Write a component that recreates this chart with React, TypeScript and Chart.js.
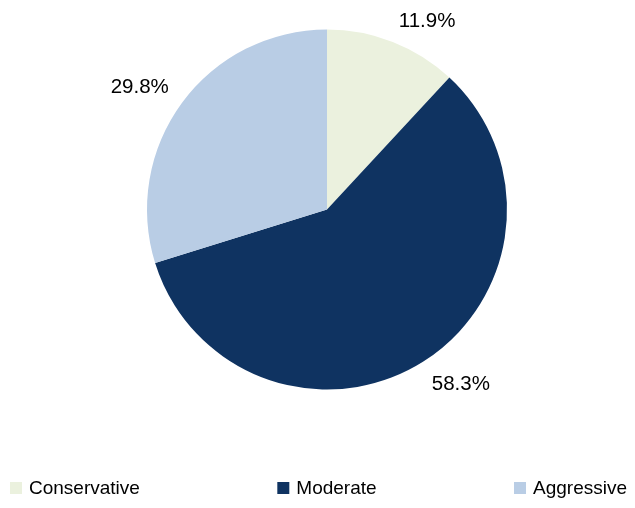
import React, { useEffect, useRef } from "react";
import { Chart, registerables } from "chart.js";

Chart.register(...registerables);

const categories = ["Conservative", "Moderate", "Aggressive"];
const values = [11.9, 58.3, 29.8];
const valueLabels = ["11.9%", "58.3%", "29.8%"];
const colors = ["#EBF1DE", "#0F3361", "#B9CDE5"];

const FONT = '"Liberation Sans", Arial, sans-serif';

const outsideLabels = {
  id: "outsideLabels",
  afterDatasetsDraw(chart: any) {
    const ctx = chart.ctx;
    const meta = chart.getDatasetMeta(0);
    const size = 20.5;
    ctx.save();
    ctx.font = `${size}px ${FONT}`;
    ctx.fillStyle = "#000";
    ctx.textBaseline = "alphabetic";
    ctx.textAlign = "left";
    const capH = size * 0.716;
    meta.data.forEach((arc: any, i: number) => {
      const { x, y, startAngle, endAngle, outerRadius } = arc.getProps(
        ["x", "y", "startAngle", "endAngle", "outerRadius"],
        true
      );
      const a = (startAngle + endAngle) / 2;
      const ux = Math.cos(a);
      const uy = Math.sin(a);
      const d = outerRadius + 16.5;
      const px = x + d * ux;
      const py = y + d * uy;
      const text = valueLabels[i];
      const w = ctx.measureText(text).width;
      const left = ux >= 0 ? px : px - w;
      const base = uy >= 0 ? py + capH : py;
      ctx.fillText(text, left, base);
    });
    ctx.restore();
  },
};

const spreadLegend = {
  id: "spreadLegend",
  afterDraw(chart: any) {
    const ctx = chart.ctx;
    const size = 19;
    const box = 12;
    const gap = 7;
    const leftEdge = 10;
    const rightEdge = chart.width - 8;
    const boxTop = 482;
    const baseline = 494;
    ctx.save();
    ctx.font = `${size}px ${FONT}`;
    ctx.textBaseline = "alphabetic";
    ctx.textAlign = "left";
    const widths = categories.map(
      (c) => box + gap + ctx.measureText(c).width
    );
    const total = widths.reduce((s, v) => s + v, 0);
    const space = (rightEdge - leftEdge - total) / (categories.length - 1);
    let x = leftEdge;
    categories.forEach((c, i) => {
      ctx.fillStyle = colors[i];
      ctx.fillRect(x, boxTop, box, box);
      ctx.fillStyle = "#000";
      ctx.fillText(c, x + box + gap, baseline);
      x += widths[i] + space;
    });
    ctx.restore();
  },
};

export default function App() {
  const ref = useRef<HTMLCanvasElement | null>(null);
  useEffect(() => {
    if (!ref.current) return;
    const chart = new Chart(ref.current, {
      type: "pie",
      data: {
        labels: categories,
        datasets: [
          {
            data: values,
            backgroundColor: colors,
            borderWidth: 0,
          },
        ],
      },
      options: {
        responsive: false,
        animation: false,
        layout: { padding: { left: 29, right: 10, top: 29.5, bottom: 118.5 } },
        plugins: {
          legend: { display: false },
          tooltip: { enabled: false },
        },
      },
      plugins: [outsideLabels, spreadLegend],
    });
    return () => chart.destroy();
  }, []);
  return (
    <div style={{ position: "absolute", left: 0, top: 0, width: 635, height: 508, background: "#fff" }}>
      <canvas ref={ref} width={635} height={508} />
    </div>
  );
}
